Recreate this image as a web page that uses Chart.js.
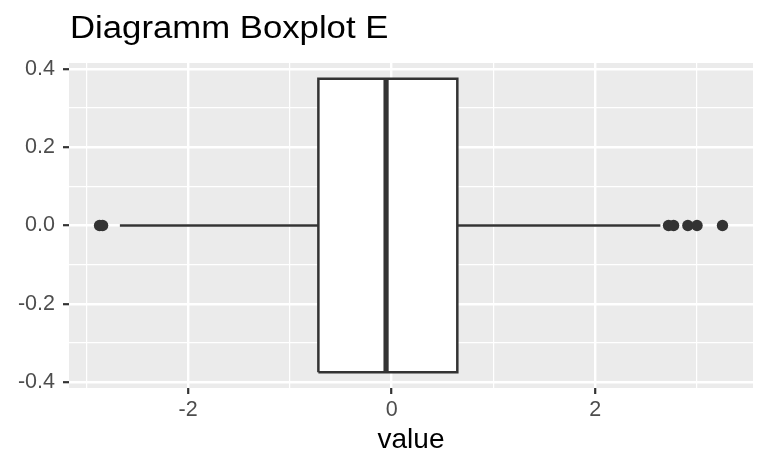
<!DOCTYPE html>
<html>
<head>
<meta charset="utf-8">
<title>Diagramm Boxplot E</title>
<script src="https://cdn.jsdelivr.net/npm/chart.js@4/dist/chart.umd.min.js"></script>
<style>
  html, body { margin: 0; padding: 0; background: #ffffff; }
  #wrap { width: 768px; height: 474px; }
</style>
</head>
<body>
<div id="wrap"><canvas id="boxChart" width="768" height="474"></canvas></div>
<script>
// ---- Daten ----
const chartTitle = "Diagramm Boxplot E";
const xAxisTitle = "value";

// Boxplot-Kennwerte
const whiskerEnds = [-2.67, 2.64];
const quartiles = [-0.72, 0.645];
const medianValue = [-0.055];
const outliers = [-2.87, -2.84, 2.72, 2.77, 2.91, 3.00, 3.25];

// Achsen
const xTickValues = [-2, 0, 2];
const xTickLabels = ["-2", "0", "2"];
const yTickValues = [-0.4, -0.2, 0, 0.2, 0.4];
const yTickLabels = ["-0.4", "-0.2", "0.0", "0.2", "0.4"];

// Boxbreite (ggplot Standard 0.75)
const boxHalf = 0.375;

const FONT = "'Liberation Sans', Arial, sans-serif";
const DARK = "#333333";

function findIndex(list, v) {
    return list.findIndex(t => Math.abs(t - v) < 1e-9);
}

function labelFor(values, labels) {
    return v => {
        const i = findIndex(values, v);
        return i >= 0 ? labels[i] : "";
    };
}

function gridFor(values) {
    return {
        color: "#ffffff",
        lineWidth: ctx => (ctx.tick && findIndex(values, ctx.tick.value) >= 0) ? 2.4 : 1.2,
        tickColor: ctx => (ctx.tick && findIndex(values, ctx.tick.value) >= 0) ? DARK : "rgba(0,0,0,0)",
        tickLength: 6,
        tickWidth: 2.2
    };
}

// Hintergrund + Titel
const panelPlugin = {
    id: "panel",
    beforeDraw(chart) {
        const { ctx, chartArea: a } = chart;
        ctx.save();
        ctx.fillStyle = "#ffffff";
        ctx.fillRect(0, 0, chart.width, chart.height);
        ctx.fillStyle = "#EBEBEB";
        ctx.fillRect(a.left, a.top, a.right - a.left, a.bottom - a.top);
        ctx.restore();
    },
    afterDraw(chart) {
        const { ctx, chartArea: a } = chart;
        ctx.save();
        ctx.font = "31px " + FONT;
        ctx.fillStyle = "#000000";
        ctx.textAlign = "left";
        ctx.textBaseline = "alphabetic";
        // Titel leicht in die Breite gezogen wie im Original
        ctx.translate(a.left + 1, 38);
        ctx.scale(1.12, 1);
        ctx.fillText(chartTitle, 0, 0);
        ctx.restore();
    }
};

const lineStyle = {
    type: "line",
    borderColor: DARK,
    borderWidth: 2.5,
    pointRadius: 0,
    tension: 0,
    fill: false
};

const datasets = [
    // Ausreißer
    {
        type: "scatter",
        data: outliers.map(v => ({ x: v, y: 0 })),
        backgroundColor: DARK,
        borderColor: DARK,
        pointRadius: 5.7,
        pointBorderWidth: 0
    },
    // Median
    Object.assign({}, lineStyle, {
        data: [{ x: medianValue[0], y: -boxHalf }, { x: medianValue[0], y: boxHalf }],
        borderWidth: 5.2
    }),
    // Box
    Object.assign({}, lineStyle, {
        data: [
            { x: quartiles[0], y: -boxHalf },
            { x: quartiles[1], y: -boxHalf },
            { x: quartiles[1], y: boxHalf },
            { x: quartiles[0], y: boxHalf },
            { x: quartiles[0], y: -boxHalf }
        ],
        fill: "shape",
        backgroundColor: "#ffffff"
    }),
    // Whisker
    Object.assign({}, lineStyle, {
        data: [{ x: whiskerEnds[0], y: 0 }, { x: quartiles[0], y: 0 }]
    }),
    Object.assign({}, lineStyle, {
        data: [{ x: quartiles[1], y: 0 }, { x: whiskerEnds[1], y: 0 }]
    })
];

function renderChart() {
    const canvas = document.getElementById("boxChart");
    new Chart(canvas, {
        type: "line",
        data: { datasets },
        plugins: [panelPlugin],
        options: {
            responsive: false,
            animation: false,
            devicePixelRatio: 1,
            layout: { padding: { top: 63, right: 15, left: 0, bottom: 0 } },
            plugins: {
                legend: { display: false },
                tooltip: { enabled: false },
                title: { display: false }
            },
            scales: {
                x: {
                    type: "linear",
                    min: -3.17,
                    max: 3.55,
                    border: { display: false },
                    grid: gridFor(xTickValues),
                    ticks: {
                        stepSize: 1,
                        includeBounds: false,
                        autoSkip: false,
                        maxRotation: 0,
                        padding: 3,
                        color: "#4D4D4D",
                        font: { family: FONT, size: 21.5 },
                        callback: labelFor(xTickValues, xTickLabels)
                    },
                    title: {
                        display: true,
                        text: xAxisTitle,
                        color: "#000000",
                        font: { family: FONT, size: 28 },
                        padding: { top: 0, bottom: 17 }
                    },
                    afterFit(axis) { axis.height = 86; }
                },
                y: {
                    type: "linear",
                    min: -0.415,
                    max: 0.415,
                    border: { display: false },
                    grid: gridFor(yTickValues),
                    ticks: {
                        stepSize: 0.1,
                        includeBounds: false,
                        autoSkip: false,
                        padding: 8,
                        color: "#4D4D4D",
                        font: { family: FONT, size: 21.5 },
                        callback: labelFor(yTickValues, yTickLabels)
                    },
                    afterFit(axis) { axis.width = 69; }
                }
            }
        }
    });
}

document.addEventListener("DOMContentLoaded", renderChart);
</script>
</body>
</html>
